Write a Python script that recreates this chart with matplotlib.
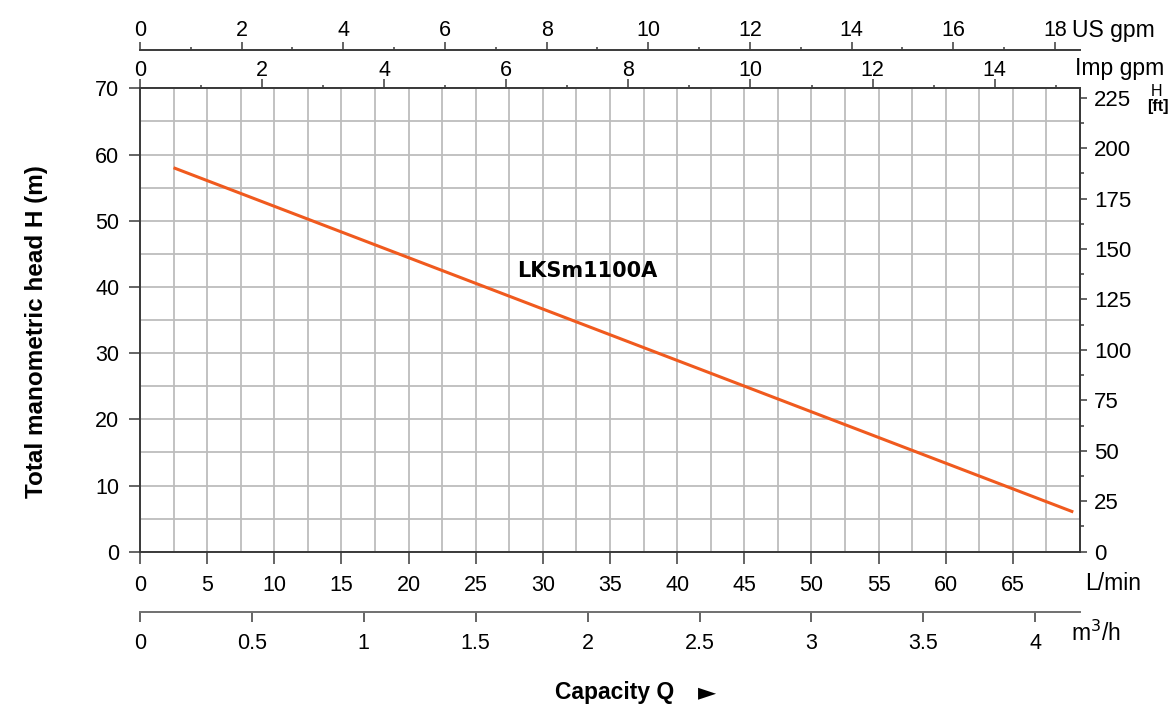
import matplotlib
matplotlib.use("Agg")
import matplotlib.pyplot as plt
from matplotlib.ticker import MultipleLocator, FixedLocator, FormatStrFormatter

plt.rcParams["font.family"] = ["Liberation Sans", "DejaVu Sans"]

# pump curve LKSm1100A
flow_lmin = [2.5, 69.5]
head_m = [58.0, 6.0]
model = "LKSm1100A"

lmin_ticks = list(range(0, 70, 5))
imp_ticks = list(range(0, 16, 2))
us_ticks = list(range(0, 20, 2))
m3h_ticks = [0, 0.5, 1, 1.5, 2, 2.5, 3, 3.5, 4]
ft_ticks = list(range(0, 250, 25))

# unit conversions
L_PER_IMP = 4.546
L_PER_US = 3.785
M_TO_FT = 3.2808

line_col = "#f05a1e"
spine_col = "#3a3a3a"
grid_col = "#bdbdbd"

fig = plt.figure(figsize=(11.76, 7.08), dpi=100)
ax = fig.add_axes([140 / 1176, 1 - 551.7 / 708, 940 / 1176, 463.4 / 708])

ax.plot(flow_lmin, head_m, color=line_col, lw=2.2, solid_capstyle="butt")
ax.text(33.3, 42.4, model, fontsize=15, fontweight="bold", family="DejaVu Sans",
        ha="center", va="center")

ax.set_xlim(0, 70)
ax.set_ylim(0, 70)
ax.xaxis.set_major_locator(FixedLocator(lmin_ticks))
ax.xaxis.set_minor_locator(MultipleLocator(2.5))
ax.yaxis.set_major_locator(MultipleLocator(10))
ax.yaxis.set_minor_locator(MultipleLocator(5))
ax.grid(which="both", color=grid_col, lw=1.3)
ax.set_axisbelow(True)
ax.tick_params(which="minor", length=0)
ax.tick_params(axis="x", which="major", direction="out", length=8.6, width=1.1,
               pad=8, labelsize=15.5, color=spine_col)
ax.tick_params(axis="y", which="major", direction="out", length=8, width=1.1,
               pad=7, labelsize=15.5, color=spine_col)
for s in ax.spines.values():
    s.set_color(spine_col)
    s.set_linewidth(1.4)

# Imp gpm on top spine
imp = ax.secondary_xaxis("top", functions=(lambda x: x / L_PER_IMP, lambda g: g * L_PER_IMP))
imp.xaxis.set_major_locator(FixedLocator(imp_ticks))
imp.xaxis.set_minor_locator(FixedLocator(range(1, 16, 2)))
imp.tick_params(which="major", direction="out", length=6.5, width=1.1, pad=-1,
                labelsize=15.5, color=spine_col)
imp.tick_params(which="minor", direction="out", length=2.5, width=1.1, color=spine_col)
imp.spines["top"].set_color(spine_col)
imp.spines["top"].set_linewidth(1.4)

# US gpm above
us = ax.secondary_xaxis((551.7 - 50) / 463.4,
                        functions=(lambda x: x / L_PER_US, lambda g: g * L_PER_US))
us.xaxis.set_major_locator(FixedLocator(us_ticks))
us.xaxis.set_minor_locator(FixedLocator(range(1, 19, 2)))
us.tick_params(which="major", direction="out", length=5.8, width=1.1, pad=1,
               labelsize=15.5, color=spine_col)
us.tick_params(which="minor", direction="out", length=2.2, width=1.1, color=spine_col)
us.spines["top"].set_color(spine_col)
us.spines["top"].set_linewidth(1.4)

# m3/h below
m3h = ax.secondary_xaxis(-(611.7 - 551.7) / 463.4,
                         functions=(lambda x: x * 0.06, lambda q: q / 0.06))
m3h.xaxis.set_major_locator(FixedLocator(m3h_ticks))
m3h.xaxis.set_major_formatter(FormatStrFormatter("%g"))
m3h.tick_params(which="major", direction="out", length=7, width=1.1, pad=8,
                labelsize=15.5, color=spine_col)
m3h.spines["bottom"].set_color("#707070")
m3h.spines["bottom"].set_linewidth(1.4)

# head in ft on the right
ft = ax.secondary_yaxis("right", functions=(lambda m: m * M_TO_FT, lambda f: f / M_TO_FT))
ft.yaxis.set_major_locator(FixedLocator(ft_ticks))
ft.yaxis.set_minor_locator(FixedLocator([t + 12.5 for t in ft_ticks[:-1]]))
ft.tick_params(which="major", direction="out", length=5, width=1.1, pad=5,
               labelsize=16, color=spine_col)
ft.tick_params(which="minor", direction="out", length=3, width=1.1, color=spine_col)
ft.spines["right"].set_color(spine_col)
ft.spines["right"].set_linewidth(1.4)

# unit labels
fig.text(1072 / 1176, 1 - 30 / 708, "US gpm", fontsize=16.5, va="center")
fig.text(1075 / 1176, 1 - 68 / 708, "Imp gpm", fontsize=16.5, va="center")
fig.text(1157 / 1176, 1 - 92 / 708, "H", fontsize=11.5, ha="center", va="center")
fig.text(1158 / 1176, 1 - 106 / 708, "[ft]", fontsize=11.5, fontweight="bold",
         ha="center", va="center")
fig.text(1085 / 1176, 1 - 584 / 708, "L/min", fontsize=16.5, va="center")
fig.text(1071 / 1176, 1 - 633 / 708, "m$^3$/h", fontsize=16.5, va="center")

fig.text(37 / 1176, 1 - 332 / 708, "Total manometric head H (m)", fontsize=17.5,
         fontweight="bold", rotation=90, ha="center", va="center")
fig.text(615 / 1176, 1 - 692 / 708, "Capacity Q", fontsize=16.5,
         fontweight="bold", ha="center", va="center")
fig.text(707 / 1176, 1 - 692 / 708, "\u25ba", fontsize=17, family="DejaVu Sans",
         ha="center", va="center")

fig.savefig("out.png", dpi=100)
